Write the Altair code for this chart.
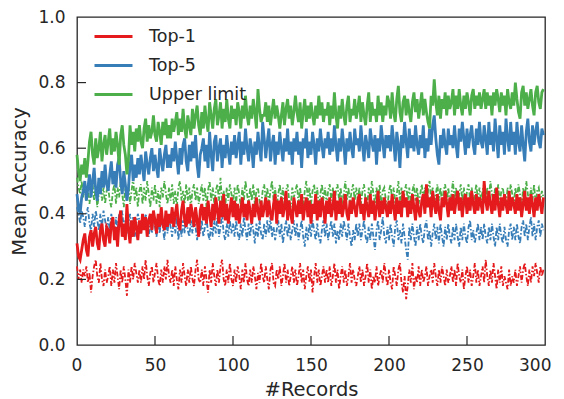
import altair as alt
import pandas as pd

series_names = ["Top-1", "Top-5", "Upper limit"]
series_colors = ["#e41a1c", "#377eb8", "#4daf4a"]
x_ticks = [0, 50, 100, 150, 200, 250, 300]
y_ticks = [0.0, 0.2, 0.4, 0.6, 0.8, 1.0]

# values in hundredths, one per record (0..299)
upper_solid = [
    58, 53, 50, 55, 52, 57, 51, 56, 62, 65, 58, 55, 63, 57, 60, 65, 56, 61, 64, 58,
    62, 66, 58, 63, 59, 65, 61, 55, 64, 67, 61, 58, 52, 57, 67, 61, 65, 59, 66, 62,
    67, 62, 60, 66, 69, 62, 67, 63, 65, 70, 64, 62, 68, 65, 61, 68, 64, 69, 63, 67,
    63, 69, 65, 68, 71, 64, 69, 65, 72, 66, 63, 70, 67, 64, 72, 66, 70, 73, 67, 64,
    71, 66, 73, 68, 65, 74, 70, 66, 72, 75, 67, 70, 74, 66, 72, 68, 75, 69, 66, 73,
    69, 72, 67, 74, 71, 66, 73, 69, 76, 70, 67, 73, 69, 75, 71, 66, 78, 72, 68, 70,
    70, 74, 68, 73, 67, 71, 75, 69, 73, 70, 66, 70, 74, 67, 72, 75, 69, 73, 67, 71,
    76, 71, 68, 74, 66, 71, 75, 68, 73, 69, 74, 70, 67, 73, 69, 76, 70, 74, 68, 72,
    70, 74, 67, 73, 69, 77, 70, 66, 73, 69, 75, 70, 67, 73, 76, 68, 72, 70, 75, 69,
    72, 76, 68, 74, 70, 67, 73, 77, 68, 74, 70, 72, 68, 76, 70, 74, 68, 73, 70, 76,
    74, 69, 77, 71, 68, 75, 79, 71, 68, 74, 76, 70, 75, 71, 68, 74, 77, 71, 75, 69,
    73, 77, 70, 75, 71, 68, 66, 76, 73, 81, 74, 70, 76, 69, 75, 72, 77, 70, 76, 72,
    74, 78, 70, 76, 72, 78, 73, 70, 76, 72, 77, 74, 70, 76, 78, 72, 76, 73, 77, 72,
    75, 78, 72, 77, 73, 76, 70, 77, 73, 78, 75, 71, 77, 73, 76, 70, 78, 74, 72, 77,
    73, 80, 75, 71, 69, 77, 79, 73, 77, 72, 75, 78, 73, 70, 77, 79, 74, 72, 77, 78,
]
top5_solid = [
    46, 42, 40, 45, 47, 50, 44, 48, 52, 45, 50, 54, 47, 44, 51, 46, 53, 48, 55, 49,
    47, 52, 56, 49, 53, 48, 55, 57, 50, 46, 53, 49, 44, 48, 55, 58, 50, 55, 51, 57,
    52, 58, 54, 50, 59, 55, 52, 57, 60, 53, 58, 54, 51, 60, 56, 53, 58, 61, 54, 58,
    54, 60, 56, 62, 57, 52, 60, 55, 61, 63, 56, 53, 61, 56, 62, 57, 64, 55, 51, 58,
    60, 63, 56, 61, 54, 65, 58, 53, 62, 64, 56, 60, 63, 54, 61, 57, 64, 59, 55, 62,
    58, 64, 57, 61, 65, 55, 62, 58, 66, 60, 56, 63, 60, 54, 62, 58, 65, 60, 56, 68,
    63, 57, 62, 66, 56, 61, 64, 55, 62, 58, 65, 60, 56, 63, 59, 66, 58, 62, 55, 63,
    59, 65, 58, 62, 54, 63, 60, 66, 57, 62, 58, 65, 61, 55, 63, 59, 66, 61, 57, 63,
    60, 65, 58, 63, 59, 67, 61, 56, 63, 59, 66, 61, 55, 63, 59, 65, 60, 57, 66, 61,
    63, 59, 67, 61, 56, 64, 61, 57, 66, 62, 59, 64, 55, 63, 59, 67, 62, 57, 64, 60,
    64, 59, 67, 62, 56, 65, 61, 54, 64, 60, 68, 62, 57, 66, 60, 64, 59, 67, 61, 58,
    64, 60, 67, 57, 63, 59, 66, 61, 67, 70, 63, 58, 55, 64, 60, 66, 61, 58, 66, 61,
    64, 60, 67, 61, 57, 66, 62, 68, 63, 58, 66, 60, 64, 67, 61, 58, 66, 61, 68, 62,
    60, 67, 63, 58, 68, 61, 65, 59, 69, 63, 57, 67, 61, 65, 58, 69, 63, 59, 68, 61,
    65, 58, 68, 62, 59, 67, 61, 56, 65, 69, 62, 59, 67, 61, 65, 68, 62, 60, 66, 64,
]
top1_solid = [
    31, 27, 26, 29, 32, 34, 29, 27, 33, 35, 30, 34, 36, 31, 29, 35, 37, 32, 30, 36,
    35, 31, 37, 39, 32, 36, 30, 38, 41, 33, 37, 32, 43, 35, 31, 38, 33, 39, 36, 32,
    38, 34, 40, 35, 39, 33, 38, 40, 35, 41, 38, 34, 40, 36, 42, 37, 35, 41, 36, 40,
    37, 42, 36, 40, 43, 37, 35, 41, 44, 38, 36, 42, 37, 43, 40, 36, 42, 38, 33, 41,
    43, 38, 42, 37, 44, 40, 36, 43, 38, 45, 41, 37, 44, 39, 46, 38, 43, 37, 41, 45,
    39, 44, 38, 43, 37, 41, 45, 39, 43, 38, 44, 41, 37, 43, 39, 45, 41, 38, 44, 39,
    42, 45, 39, 44, 40, 38, 43, 46, 37, 44, 40, 45, 39, 42, 47, 38, 44, 40, 37, 45,
    42, 39, 44, 40, 46, 38, 42, 45, 39, 44, 37, 43, 40, 46, 38, 44, 39, 45, 42, 37,
    44, 40, 45, 39, 42, 47, 38, 44, 40, 45, 39, 42, 46, 40, 38, 44, 40, 45, 42, 39,
    44, 46, 40, 43, 38, 45, 42, 39, 46, 40, 44, 38, 42, 47, 39, 44, 40, 45, 42, 39,
    44, 40, 46, 42, 38, 45, 40, 44, 39, 47, 42, 45, 39, 44, 40, 46, 42, 38, 45, 41,
    39, 44, 46, 40, 49, 42, 45, 39, 47, 43, 40, 46, 41, 38, 45, 42, 47, 43, 39, 45,
    41, 46, 40, 44, 47, 41, 45, 39, 44, 46, 40, 45, 41, 47, 43, 40, 46, 41, 45, 43,
    40, 50, 44, 41, 47, 43, 40, 46, 41, 48, 43, 39, 45, 41, 46, 43, 40, 47, 41, 45,
    43, 40, 46, 41, 45, 39, 43, 47, 41, 45, 40, 46, 43, 39, 45, 41, 46, 43, 40, 45,
]
upper_dashed = [
    51, 48, 46, 50, 45, 49, 44, 48, 43, 47, 49, 44, 48, 42, 46, 50, 44, 48, 43, 47,
    48, 44, 42, 47, 49, 43, 48, 45, 50, 46, 42, 48, 44, 49, 43, 47, 51, 44, 48, 42,
    47, 49, 43, 48, 44, 50, 46, 42, 48, 44, 49, 43, 47, 42, 48, 45, 50, 46, 43, 48,
    44, 49, 43, 47, 42, 48, 50, 44, 47, 43, 49, 44, 48, 42, 47, 49, 44, 48, 43, 46,
    49, 44, 48, 42, 47, 50, 44, 48, 43, 47, 49, 44, 51, 43, 47, 42, 48, 44, 49, 46,
    44, 48, 43, 49, 46, 42, 48, 44, 50, 46, 43, 48, 44, 49, 43, 47, 48, 44, 42, 47,
    49, 44, 48, 43, 47, 50, 44, 48, 42, 46, 49, 44, 48, 43, 47, 49, 44, 42, 48, 45,
    47, 49, 43, 48, 44, 42, 47, 50, 44, 48, 43, 47, 49, 44, 48, 42, 46, 49, 44, 48,
    43, 47, 49, 44, 48, 42, 47, 49, 44, 48, 43, 46, 50, 44, 48, 43, 47, 49, 44, 48,
    44, 48, 43, 47, 49, 44, 42, 48, 44, 50, 46, 43, 48, 44, 49, 43, 47, 48, 44, 42,
    47, 49, 44, 48, 43, 46, 50, 44, 48, 42, 47, 49, 44, 48, 43, 47, 49, 44, 48, 43,
    46, 49, 44, 48, 42, 47, 50, 44, 48, 43, 46, 49, 44, 48, 43, 47, 49, 44, 48, 43,
    46, 50, 44, 48, 43, 46, 49, 44, 48, 42, 47, 49, 44, 48, 43, 46, 49, 44, 48, 44,
    47, 49, 43, 48, 44, 50, 46, 43, 48, 44, 49, 43, 47, 48, 44, 42, 48, 44, 49, 46,
    43, 48, 44, 49, 46, 42, 48, 44, 50, 46, 43, 48, 44, 49, 43, 47, 48, 44, 47, 45,
]
top5_dashed = [
    42, 40, 37, 41, 39, 36, 40, 42, 37, 35, 40, 36, 41, 38, 35, 40, 36, 41, 38, 35,
    39, 35, 40, 36, 34, 39, 35, 40, 36, 41, 35, 38, 34, 37, 40, 35, 39, 33, 37, 40,
    38, 34, 39, 35, 40, 37, 33, 38, 34, 39, 36, 33, 38, 34, 39, 36, 32, 38, 34, 39,
    36, 33, 38, 34, 39, 32, 37, 33, 38, 34, 40, 35, 33, 38, 34, 39, 36, 32, 37, 34,
    38, 33, 36, 39, 34, 32, 37, 33, 38, 34, 39, 33, 36, 40, 34, 32, 37, 33, 38, 34,
    37, 33, 38, 34, 32, 37, 33, 39, 35, 32, 37, 33, 38, 35, 31, 37, 33, 38, 34, 32,
    37, 33, 38, 34, 39, 33, 36, 32, 35, 38, 33, 37, 31, 35, 38, 33, 37, 32, 35, 38,
    33, 37, 32, 35, 38, 33, 30, 36, 32, 37, 33, 38, 35, 32, 37, 33, 31, 35, 38, 33,
    37, 32, 35, 38, 33, 37, 31, 35, 32, 37, 33, 38, 35, 32, 37, 33, 30, 35, 32, 37,
    33, 37, 32, 35, 38, 33, 31, 36, 32, 37, 33, 29, 35, 38, 32, 35, 39, 33, 31, 36,
    32, 37, 33, 30, 36, 38, 32, 35, 31, 37, 33, 29, 26, 36, 32, 37, 33, 30, 36, 32,
    37, 33, 31, 36, 38, 32, 35, 30, 34, 37, 32, 36, 31, 37, 33, 30, 36, 32, 37, 33,
    31, 36, 32, 37, 33, 30, 36, 32, 37, 33, 31, 36, 38, 32, 35, 31, 34, 37, 32, 36,
    32, 37, 33, 31, 36, 32, 37, 33, 30, 36, 32, 37, 33, 31, 36, 32, 30, 35, 37, 32,
    36, 32, 37, 33, 31, 36, 38, 33, 37, 32, 36, 39, 33, 37, 32, 36, 38, 33, 37, 35,
]
top1_dashed = [
    24, 20, 23, 19, 23, 21, 24, 19, 22, 16, 21, 24, 26, 21, 19, 25, 20, 18, 23, 19,
    21, 24, 18, 23, 19, 25, 21, 17, 23, 19, 24, 20, 15, 23, 19, 24, 20, 25, 22, 19,
    23, 19, 24, 20, 26, 21, 18, 22, 24, 19, 22, 25, 20, 18, 23, 19, 24, 20, 26, 21,
    19, 23, 18, 24, 20, 17, 23, 19, 25, 21, 18, 23, 19, 24, 20, 18, 23, 26, 20, 19,
    23, 18, 24, 20, 16, 23, 19, 25, 21, 18, 23, 19, 24, 26, 20, 18, 23, 19, 25, 20,
    18, 23, 19, 24, 21, 17, 23, 19, 25, 20, 18, 23, 19, 24, 21, 17, 22, 19, 25, 21,
    19, 24, 20, 17, 23, 25, 19, 18, 23, 20, 24, 18, 21, 25, 19, 23, 18, 21, 24, 19,
    23, 18, 21, 25, 19, 23, 17, 21, 24, 19, 23, 16, 21, 25, 19, 23, 18, 21, 24, 19,
    23, 19, 24, 18, 21, 25, 19, 23, 17, 21, 24, 19, 23, 18, 21, 25, 19, 23, 20, 18,
    21, 24, 19, 23, 18, 21, 25, 19, 23, 17, 21, 19, 24, 18, 21, 23, 19, 25, 21, 18,
    23, 19, 17, 24, 21, 18, 23, 25, 19, 16, 21, 14, 18, 23, 19, 25, 17, 21, 19, 24,
    18, 23, 19, 21, 24, 18, 21, 23, 19, 25, 21, 18, 23, 19, 24, 21, 18, 23, 19, 21,
    24, 19, 23, 18, 25, 21, 19, 23, 17, 21, 24, 19, 23, 18, 21, 25, 19, 23, 18, 21,
    24, 19, 26, 21, 18, 23, 19, 25, 21, 17, 23, 19, 24, 18, 21, 19, 17, 23, 18, 21,
    19, 23, 18, 21, 24, 19, 23, 25, 21, 18, 23, 19, 24, 21, 25, 22, 19, 24, 21, 23,
]


def build(pairs):
    rows = []
    for name, vals in pairs:
        for i, v in enumerate(vals):
            rows.append({"records": i, "acc": v / 100.0, "series": name})
    return pd.DataFrame(rows)


solid_df = build([("Top-1", top1_solid), ("Top-5", top5_solid), ("Upper limit", upper_solid)])
dashed_df = build([("Top-1", top1_dashed), ("Top-5", top5_dashed), ("Upper limit", upper_dashed)])

x_scale = alt.Scale(domain=[0, 300], nice=False, zero=False)
y_scale = alt.Scale(domain=[0, 1], nice=False)
color_scale = alt.Scale(domain=series_names, range=series_colors)

ink = "#262626"

x_axis = alt.Axis(values=x_ticks, format="d", tickSize=0, domain=False, grid=False,
                  labelFlush=True, labelFlushOffset=6, labelFontSize=17, labelPadding=12,
                  labelColor=ink,
                  title="#Records", titleFontSize=19.5, titleFontWeight="normal",
                  titleColor=ink, titlePadding=7)
y_axis = alt.Axis(values=y_ticks, format=".1f", tickSize=0, domain=False, grid=False,
                  labelFlush=False, labelFontSize=17, labelPadding=12, labelColor=ink,
                  title="Mean Accuracy", titleFontSize=19.5, titleFontWeight="normal",
                  titleColor=ink, titlePadding=8)

legend = alt.Legend(orient="none", legendX=16, legendY=-1, title=None,
                    symbolType="stroke", symbolSize=1444, symbolStrokeWidth=3,
                    symbolDash=[1, 0], labelFontSize=17.5, labelOffset=15,
                    labelColor=ink, padding=0, rowPadding=0)

x_enc = alt.X("records:Q", scale=x_scale, axis=x_axis)
y_enc = alt.Y("acc:Q", scale=y_scale, axis=y_axis)

dashed = alt.Chart(dashed_df).mark_line(strokeWidth=1.8, strokeDash=[5, 2, 1.5, 2]).encode(
    x=x_enc, y=y_enc,
    color=alt.Color("series:N", scale=color_scale, legend=legend),
)

solid = alt.Chart(solid_df).mark_line(strokeWidth=2.8).encode(
    x=x_enc, y=y_enc,
    color=alt.Color("series:N", scale=color_scale, legend=legend),
)

xt_df = pd.DataFrame({"records": x_ticks[1:-1]})
yt_df = pd.DataFrame({"acc": y_ticks[1:-1]})

x_tick_marks = alt.Chart(xt_df).mark_rule(color=ink, strokeWidth=1.2).encode(
    x=x_enc,
    y=alt.value(328), y2=alt.value(319),
)
y_tick_marks = alt.Chart(yt_df).mark_rule(color=ink, strokeWidth=1.2).encode(
    y=y_enc,
    x=alt.value(0), x2=alt.value(9),
)

chart = alt.layer(dashed, solid, x_tick_marks, y_tick_marks).properties(
    width=468, height=328,
    autosize=alt.AutoSizeParams(type="none"),
    padding={"left": 69, "top": 9, "right": 10, "bottom": 58},
).configure(font="DejaVu Sans").configure_view(
    stroke=ink, strokeWidth=1.3
)

chart.save("out.html", embed_options={"renderer": "svg", "actions": False})
